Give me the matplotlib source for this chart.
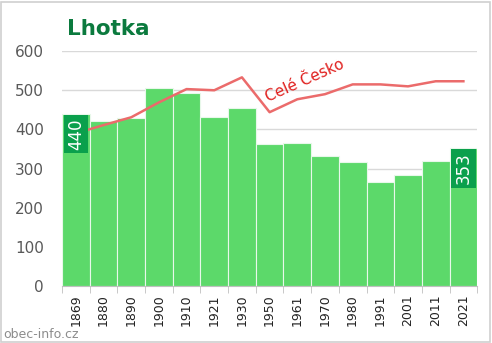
import matplotlib.pyplot as plt
import numpy as np

years = ['1869', '1880', '1890', '1900', '1910', '1921', '1930', '1950',
         '1961', '1970', '1980', '1991', '2001', '2011', '2021']
population = [440, 421, 429, 505, 492, 431, 454, 362, 365, 332, 316, 265, 283, 319, 353]
czech_scaled = [390, 411, 431, 469, 503, 500, 533, 444, 477, 490, 515, 515, 510, 523, 523]
yticks = [0, 100, 200, 300, 400, 500, 600]


def main():
    fig = plt.figure(figsize=(4.92, 3.43), dpi=100)
    ax = fig.add_axes([0.126, 0.166, 0.844, 0.685])
    x = np.arange(len(years))

    ax.bar(x, population, width=1.0, color='#5cd96a', edgecolor='#e8f8ea',
           linewidth=0.8, zorder=2)
    ax.plot(x, czech_scaled, color='#eb6b6b', linewidth=1.8, zorder=3)

    # first and last value in dark green boxes
    for i in (0, len(years) - 1):
        ax.text(x[i], population[i] - 12, str(population[i]), rotation=90,
                ha='center', va='top', color='white', fontsize=12,
                zorder=5,
                bbox=dict(boxstyle='square,pad=0.2', fc='#0aa04c', ec='none'))

    ax.text(6.95, 470, 'Celé Česko', rotation=24, rotation_mode='anchor',
            color='#e0201e', fontsize=11, ha='left', va='baseline', zorder=4)

    ax.set_xlim(-0.5, len(years) - 0.5)
    ax.set_ylim(0, 600)
    ax.set_yticks(yticks)
    ax.set_yticklabels([str(v) for v in yticks], color='#595959', fontsize=11)
    ax.yaxis.grid(True, color='#d9d9d9', linewidth=1, zorder=0)
    ax.set_axisbelow(True)
    ax.tick_params(axis='y', length=0, pad=13)

    ax.set_xticks(x)
    ax.set_xticklabels(years, rotation=90, fontsize=9, color='#222222')
    ax.set_xticks(np.arange(len(years) + 1) - 0.5, minor=True)
    ax.tick_params(axis='x', which='major', length=0, pad=6)
    ax.tick_params(axis='x', which='minor', length=5, color='#bfbfbf')

    for s in ('top', 'right', 'left'):
        ax.spines[s].set_visible(False)
    ax.spines['bottom'].set_color('#bfbfbf')

    fig.text(0.136, 0.915, 'Lhotka', fontsize=15.5, fontweight='bold',
             color='#0b7a3e', ha='left', va='center')
    fig.text(0.006, 0.026, 'obec-info.cz', fontsize=9, color='#8c8c8c',
             ha='left', va='center')

    fig.patches.append(plt.Rectangle((0.002, 0.003), 0.994, 0.992,
                                     transform=fig.transFigure, fill=False,
                                     ec='#d0d0d0', lw=1.2))

    fig.savefig('out.png', dpi=100)


if __name__ == "__main__":
    main()
